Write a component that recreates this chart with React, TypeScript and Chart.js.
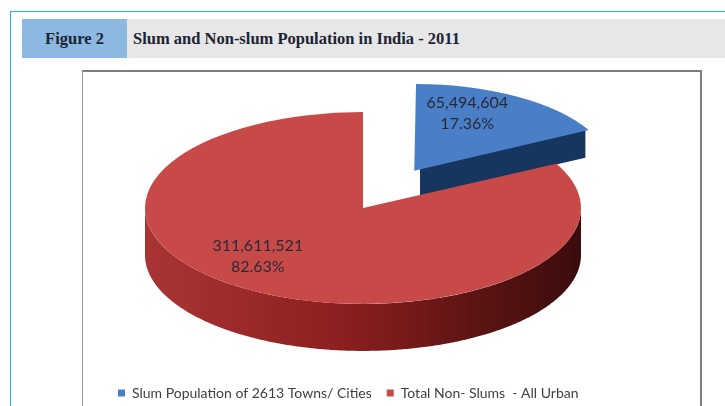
import React, { useEffect, useRef } from 'react';
import { Chart, registerables } from 'chart.js';

Chart.register(...registerables);

// ---- data ----
const categories = ['Slum Population of 2613 Towns/ Cities', 'Total Non- Slums  - All Urban'];
const populations = [65494604, 311611521];
const percentLabels = ['17.36%', '82.63%'];

// ---- styling ----
const topColors = ['#4a7ec6', '#c84a48'];
const explodeOffset = [395, 0];
const sliceScale = [0.855, 1];
const sideDepth = [29, 47];
const TILT = 0.44;
const PIE_RADIUS = 218;
const LABEL_FRAC = 0.55;
const labelNudge = [[-6, -15], [-43, 3]];

function displacement(arc: any): [number, number] {
  const circ = arc.endAngle - arc.startAngle;
  const off = ((arc.options && arc.options.offset) || 0) / 4;
  const fix = 1 - Math.sin(Math.min(Math.PI, circ || 0));
  const d = off + off * fix;
  const half = (arc.startAngle + arc.endAngle) / 2;
  return [Math.cos(half) * d, Math.sin(half) * d];
}

const pie3d = {
  id: 'pie3d',
  afterDatasetUpdate(chart: any) {
    const meta = chart.getDatasetMeta(0);
    meta.data.forEach((arc: any, i: number) => {
      if (Number.isFinite(arc.outerRadius)) arc.outerRadius = arc.outerRadius * sliceScale[i];
    });
  },
  beforeDatasetsDraw(chart: any) {
    const ctx: CanvasRenderingContext2D = chart.ctx;
    const arcs = chart.getDatasetMeta(0).data;
    ctx.save();
    if (!arcs.length) return;
    const cy = arcs[0].y;
    const P = (x: number, y: number): [number, number] => [x, cy + (y - cy) * TILT];
    arcs.forEach((arc: any, i: number) => {
      const [dx, dy] = displacement(arc);
      const vx = arc.x + dx;
      const vy = arc.y + dy;
      const r = arc.outerRadius;
      const a0 = arc.startAngle;
      const a1 = arc.endAngle;
      if (![vx, vy, r, a0, a1, cy].every(Number.isFinite)) return;
      const depth = sideDepth[i];
      const isBlue = i === 0;
      const face = (a: number) => {
        const p1 = P(vx, vy);
        const p2 = P(vx + Math.cos(a) * r, vy + Math.sin(a) * r);
        ctx.beginPath();
        ctx.moveTo(p1[0], p1[1]);
        ctx.lineTo(p2[0], p2[1]);
        ctx.lineTo(p2[0], p2[1] + depth);
        ctx.lineTo(p1[0], p1[1] + depth);
        ctx.closePath();
        ctx.fillStyle = isBlue ? '#17365f' : '#7a1a1a';
        ctx.fill();
      };
      if (Math.cos(a1) > 0.001) face(a1);
      if (Math.cos(a0) < -0.001) face(a0);
      for (let n = -1; n <= 1; n++) {
        const s = Math.max(a0, 2 * Math.PI * n);
        const e = Math.min(a1, 2 * Math.PI * n + Math.PI);
        if (e <= s) continue;
        const steps = Math.max(8, Math.ceil((e - s) / 0.01));
        const top: [number, number][] = [];
        for (let k = 0; k <= steps; k++) {
          const t = s + ((e - s) * k) / steps;
          top.push(P(vx + Math.cos(t) * r, vy + Math.sin(t) * r));
        }
        ctx.beginPath();
        top.forEach((p, k) => (k ? ctx.lineTo(p[0], p[1]) : ctx.moveTo(p[0], p[1])));
        for (let k = top.length - 1; k >= 0; k--) ctx.lineTo(top[k][0], top[k][1] + depth);
        ctx.closePath();
        const g = ctx.createLinearGradient(vx - r, 0, vx + r, 0);
        if (isBlue) {
          g.addColorStop(0, '#1f447a');
          g.addColorStop(1, '#0f2747');
        } else {
          g.addColorStop(0, '#aa3434');
          g.addColorStop(0.45, '#8c1f1f');
          g.addColorStop(0.75, '#5e1414');
          g.addColorStop(1, '#3a0c0c');
        }
        ctx.fillStyle = g;
        ctx.fill();
      }
    });
    if (Number.isFinite(cy)) {
      ctx.translate(0, cy);
      ctx.scale(1, TILT);
      ctx.translate(0, -cy);
    }
  },
  afterDatasetsDraw(chart: any) {
    const ctx: CanvasRenderingContext2D = chart.ctx;
    ctx.restore();
    const arcs = chart.getDatasetMeta(0).data;
    ctx.save();
    ctx.font = '16px Lato';
    ctx.fillStyle = '#272a36';
    ctx.textAlign = 'center';
    ctx.textBaseline = 'middle';
    arcs.forEach((arc: any, i: number) => {
      const [dx, dy] = displacement(arc);
      const mid = (arc.startAngle + arc.endAngle) / 2;
      const ux = arc.x + dx + Math.cos(mid) * arc.outerRadius * LABEL_FRAC;
      const uy = arc.y + dy + Math.sin(mid) * arc.outerRadius * LABEL_FRAC;
      const sx = ux + labelNudge[i][0];
      const sy = arc.y + (uy - arc.y) * TILT + labelNudge[i][1];
      if (!Number.isFinite(sx) || !Number.isFinite(sy)) return;
      ctx.fillText(populations[i].toLocaleString('en-US'), sx, sy - 10.5);
      ctx.fillText(percentLabels[i], sx, sy + 10.5);
    });
    ctx.restore();
  },
};

function PieChart() {
  const ref = useRef<HTMLCanvasElement | null>(null);
  useEffect(() => {
    if (!ref.current) return;
    const chart = new Chart(ref.current, {
      type: 'pie',
      data: {
        labels: categories,
        datasets: [
          {
            data: populations,
            backgroundColor: topColors,
            borderWidth: 0,
            offset: explodeOffset,
            radius: PIE_RADIUS,
            cutout: '0%',
            clip: false,
          } as any,
        ],
      },
      options: {
        responsive: false,
        animation: false,
        cutout: '0%',
        layout: { padding: { left: 19, right: 77, top: 0, bottom: 0 } },
        plugins: {
          legend: {
            position: 'bottom',
            align: 'start',
            labels: {
              boxWidth: 7,
              boxHeight: 7,
              padding: 15,
              color: '#404040',
              font: { family: 'Lato', size: 14 },
            },
          },
          tooltip: { enabled: false },
        },
      } as any,
      plugins: [pie3d],
    });
    return () => chart.destroy();
  }, []);
  return (
    <canvas
      ref={ref}
      width={616}
      height={365}
      style={{ position: 'absolute', left: 84, top: 45, width: 616, height: 365 }}
    />
  );
}

export default function App() {
  const headText: React.CSSProperties = {
    fontFamily: '"Liberation Serif", serif',
    fontWeight: 'bold',
    fontSize: 16.5,
    color: '#1c2433',
    lineHeight: '39px',
    whiteSpace: 'nowrap',
  };
  return (
    <div
      style={{
        position: 'fixed',
        left: 0,
        top: 0,
        width: 725,
        height: 406,
        background: '#ffffff',
        overflow: 'hidden',
      }}
    >
      <div
        style={{
          position: 'absolute',
          left: 10,
          top: 11,
          width: 800,
          height: 500,
          border: '1.5px solid #1eb4e8',
        }}
      />
      <div
        style={{
          position: 'absolute',
          left: 22,
          top: 19,
          width: 105,
          height: 39,
          background: '#8cb9e2',
          textAlign: 'center',
          ...headText,
        }}
      >
        Figure 2
      </div>
      <div
        style={{
          position: 'absolute',
          left: 127,
          top: 19,
          width: 598,
          height: 39,
          background: '#e7e7e8',
          paddingLeft: 6,
          boxSizing: 'border-box',
          ...headText,
        }}
      >
        Slum and Non-slum Population in India - 2011
      </div>
      <div
        style={{
          position: 'absolute',
          left: 82,
          top: 70,
          width: 620,
          height: 400,
          boxSizing: 'border-box',
          borderTop: '2px solid #7e7e7e',
          borderRight: '2px solid #7e7e7e',
          borderLeft: '1.5px solid #9a9a9a',
        }}
      />
      <PieChart />
    </div>
  );
}
